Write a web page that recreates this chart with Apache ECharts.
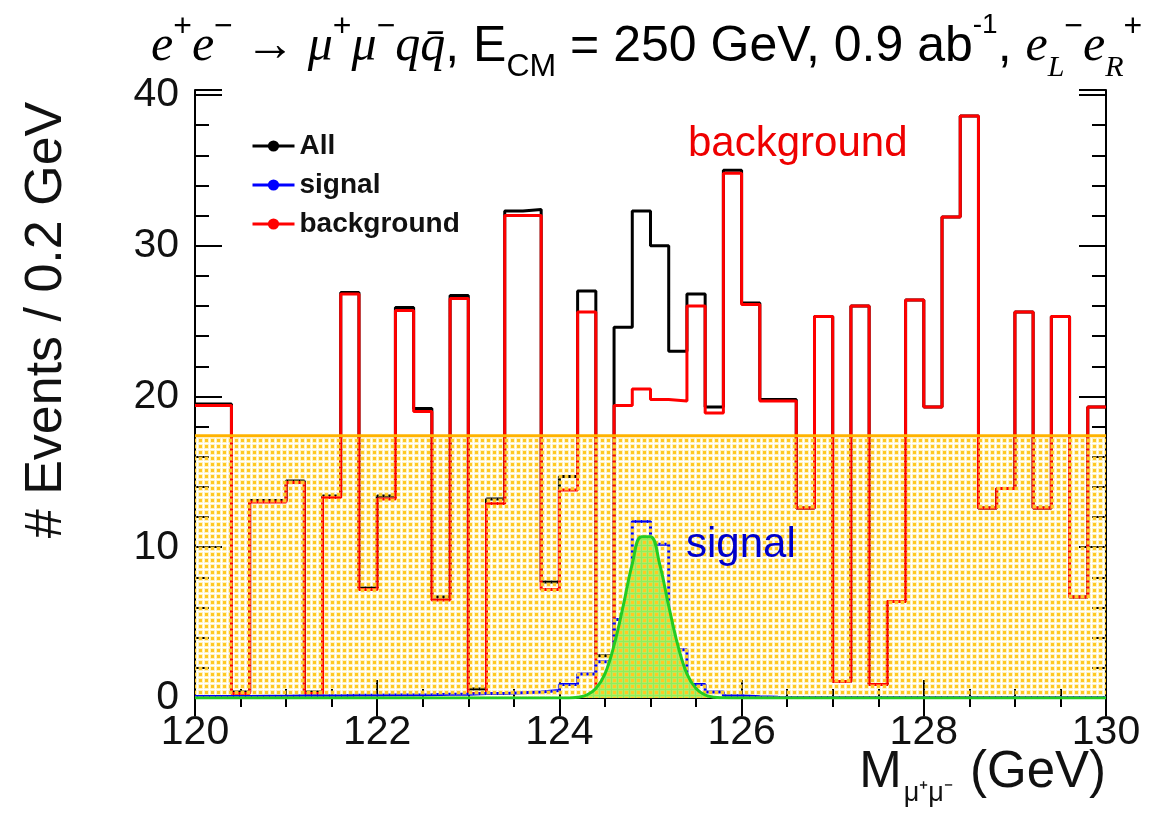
<!DOCTYPE html>
<html>
<head>
<meta charset="utf-8">
<script src="https://cdn.jsdelivr.net/npm/echarts@6/dist/echarts.min.js"></script>
<style>
html,body{margin:0;padding:0;background:#fff;}
#chart{width:1168px;height:819px;}
</style>
</head>
<body>
<div id="chart"></div>
<script>
// ---- data (bins of 0.2 GeV from 120 to 130) ----
const binStart = 120;
const binWidth = 0.2;
const xTicks = [120, 122, 124, 126, 128, 130];
const yTicks = [0, 10, 20, 30, 40];

const background = [19.4, 19.4, 0.3, 13.0, 13.0, 14.3, 0.3, 13.3, 26.8, 7.2,
                    13.2, 25.7, 19.0, 6.5, 26.5, 0.3, 12.9, 32.0, 32.0, 7.2,
                    13.8, 25.6, 0.4, 19.4, 20.5, 19.8, 19.7, 26.0, 18.9, 34.8,
                    26.1, 19.7, 19.7, 12.6, 25.3, 1.1, 26.0, 0.9, 6.4, 26.4,
                    19.3, 31.9, 38.6, 12.6, 13.9, 25.6, 12.6, 25.3, 6.7, 19.3];

const signal = [0.1, 0.1, 0.1, 0.12, 0.12, 0.15, 0.15, 0.15, 0.18, 0.18,
                0.2, 0.2, 0.22, 0.25, 0.25, 0.3, 0.3, 0.35, 0.4, 0.5,
                0.9, 1.6, 2.4, 5.2, 11.7, 10.2, 3.2, 0.9, 0.4, 0.15,
                0.08, 0.05, 0.04, 0.03, 0.03, 0.03, 0.03, 0.03, 0.03, 0.03,
                0.03, 0.03, 0.03, 0.03, 0.03, 0.03, 0.03, 0.03, 0.03, 0.03];

const allEvents = [19.5, 19.5, 0.4, 13.1, 13.1, 14.4, 0.4, 13.4, 26.9, 7.3,
                   13.4, 25.9, 19.2, 6.7, 26.7, 0.6, 13.2, 32.3, 32.4, 7.7,
                   14.7, 27.0, 2.8, 24.6, 32.3, 30.0, 23.0, 26.8, 19.3, 35.0,
                   26.2, 19.8, 19.8, 12.6, 25.3, 1.1, 26.0, 0.9, 6.4, 26.4,
                   19.3, 31.9, 38.6, 12.6, 13.9, 25.6, 12.6, 25.3, 6.7, 19.3];

// background fit level (flat, orange dotted band)
const bkgFitX = [120, 130];
const bkgFitY = [17.4, 17.4];

// signal fit curve
const gaussX = [120, 124.1, 124.2, 124.3, 124.4, 124.5, 124.6, 124.7, 124.8, 124.9, 125.0,
                125.1, 125.2, 125.3, 125.4, 125.5, 125.6, 125.7, 125.8, 125.9, 130];
const gaussY = [0, 0.0, 0.05, 0.2, 0.63, 1.6, 3.5, 6.1, 8.9, 10.7, 10.7,
                8.9, 6.1, 3.5, 1.6, 0.63, 0.2, 0.05, 0.01, 0.0, 0];

// ---- helpers ----
function histData(vals){
  const d = vals.map((v,i)=>[binStart + i*binWidth, v]);
  d.push([binStart + vals.length*binWidth, vals[vals.length-1]]);
  return d;
}
function zip(xs, ys){ return xs.map((x,i)=>[x, ys[i]]); }

// dotted pattern for the background fit band
const pat = document.createElement('canvas');
pat.width = 6; pat.height = 6;
(function(){
  const c = pat.getContext('2d');
  c.fillStyle = 'rgba(255,226,100,0.4)';
  c.fillRect(0,0,5,5);
  c.fillStyle = '#ffc823';
  c.fillRect(1,1,3,3);
})();

const chart = echarts.init(document.getElementById('chart'), null, {renderer:'canvas'});

const SANS = 'Liberation Sans, Arial, Helvetica, sans-serif';
const SERIF = 'Liberation Serif, DejaVu Serif, serif';

const titleText = '{m|e}{sp|+}{m|e}{sp|\u2212}{m| \u2192 \u03bc}{sp|+}{m|\u03bc}{sp|\u2212}{m|qq\u0304}{n|, E}{sb|CM}{n| = 250 GeV, 0.9 ab}{sp2|-1}{n|, }{m|e}{sb2|L}{sp|\u2212}{m|e}{sb2|R}{sp|+}';

const option = {
  animation:false,
  backgroundColor:'#fff',
  title:{
    text: titleText,
    left: 146, top: 6,
    textStyle:{
      fontWeight:'normal',
      rich:{
        m:{fontFamily:SERIF, fontStyle:'italic', fontWeight:'normal', fontSize:50, lineHeight:72, color:'#000', verticalAlign:'middle'},
        n:{fontFamily:SANS, fontWeight:'normal', fontSize:50, lineHeight:72, color:'#000', verticalAlign:'middle'},
        sp:{fontFamily:SANS, fontWeight:'normal', fontSize:32, lineHeight:38, color:'#000', verticalAlign:'top'},
        sp2:{fontFamily:SANS, fontWeight:'normal', fontSize:28, lineHeight:36, color:'#000', verticalAlign:'top'},
        sb:{fontFamily:SANS, fontWeight:'normal', fontSize:32, lineHeight:34, color:'#000', verticalAlign:'bottom'},
        sb2:{fontFamily:SERIF, fontStyle:'italic', fontWeight:'normal', fontSize:30, lineHeight:30, color:'#000', verticalAlign:'bottom'}
      }
    }
  },
  legend:{
    data:['All','signal','background'],
    orient:'vertical',
    left:246, top:127,
    itemWidth:42, itemHeight:14, itemGap:11,
    lineStyle:{width:3},
    textStyle:{fontFamily:SANS, fontSize:28, fontWeight:'bold', color:'#111'}
  },
  grid:{left:195, right:62, top:90, bottom:121, outerBoundsMode:'none', containLabel:false},
  xAxis:[{
    type:'value', min:120, max:130, interval:2,
    axisLine:{show:true, lineStyle:{color:'#000', width:2}},
    axisTick:{show:true, inside:true, length:18, lineStyle:{color:'#000', width:2}},
    minorTick:{show:true, splitNumber:4, length:9, lineStyle:{color:'#000', width:2}},
    splitLine:{show:false},
    axisLabel:{fontFamily:SANS, fontSize:41, color:'#111', margin:14,
      formatter:(v)=> xTicks.indexOf(v) >= 0 ? String(v) : ''}
  },{
    type:'value', min:120, max:130, interval:2, position:'top',
    axisLine:{show:true, lineStyle:{color:'#000', width:2}},
    axisTick:{show:true, inside:true, length:18, lineStyle:{color:'#000', width:2}},
    minorTick:{show:true, splitNumber:4, length:9, lineStyle:{color:'#000', width:2}},
    splitLine:{show:false}, axisLabel:{show:false}
  }],
  yAxis:[{
    type:'value', min:0, max:40.33, interval:10,
    axisLine:{show:true, lineStyle:{color:'#000', width:2}},
    axisTick:{show:true, inside:true, length:27, lineStyle:{color:'#000', width:2}},
    minorTick:{show:true, splitNumber:5, length:14, lineStyle:{color:'#000', width:2}},
    splitLine:{show:false},
    axisLabel:{fontFamily:SANS, fontSize:41, color:'#111', margin:16, showMaxLabel:false,
      formatter:(v)=> yTicks.indexOf(v) >= 0 ? String(v) : ''}
  },{
    type:'value', min:0, max:40.33, interval:10, position:'right',
    axisLine:{show:true, lineStyle:{color:'#000', width:2}},
    axisTick:{show:true, inside:true, length:27, lineStyle:{color:'#000', width:2}},
    minorTick:{show:true, splitNumber:5, length:14, lineStyle:{color:'#000', width:2}},
    splitLine:{show:false}, axisLabel:{show:false}
  }],
  graphic:[
    {type:'text', left:688, top:123, style:{text:'background', fontFamily:SANS, fontSize:42, fill:'#ee0000'}, z:100},
    {type:'text', left:686, top:524, style:{text:'signal', fontFamily:SANS, fontSize:42, fill:'#0000cc'}, z:100},
    {type:'text', x:47, y:320, rotation:Math.PI/2,
     style:{text:'# Events / 0.2 GeV', fontFamily:SANS, fontSize:52, fill:'#111', align:'center', verticalAlign:'middle'}, z:100},
    {type:'text', right:62, top:747,
     style:{text:'{a|M}{s|\u03bc\u207a\u03bc\u207b}{a| (GeV)}', fill:'#111',
       rich:{
         a:{fontFamily:SANS, fontSize:51, lineHeight:60, fill:'#111', verticalAlign:'top'},
         s:{fontFamily:SANS, fontSize:27, lineHeight:27, fill:'#111', verticalAlign:'bottom', padding:[0,3,0,2]}
       }}, z:100}
  ],
  series:[
    {name:'All', type:'line', step:'end', data:histData(allEvents),
     symbol:'circle', symbolSize:8, showSymbol:false,
     lineStyle:{color:'#000', width:3}, itemStyle:{color:'#000'}, z:2, silent:true},
    {name:'background', type:'line', step:'end', data:histData(background),
     symbol:'circle', symbolSize:8, showSymbol:false,
     lineStyle:{color:'#ff0000', width:3}, itemStyle:{color:'#ff0000'}, z:3, silent:true},
    {name:'signal', type:'line', step:'end', data:histData(signal),
     symbol:'circle', symbolSize:8, showSymbol:false,
     lineStyle:{color:'#0000ff', width:3}, itemStyle:{color:'#0000ff'}, z:4, silent:true},
    {name:'signal fit area', type:'line', smooth:0.4, data:zip(gaussX, gaussY),
     symbol:'none', lineStyle:{width:0}, areaStyle:{color:'#8eef5a', opacity:1}, z:5, silent:true},
    {name:'background fit', type:'line', data:zip(bkgFitX, bkgFitY),
     symbol:'none', lineStyle:{color:'#ffb300', width:3},
     areaStyle:{color:{image:pat, repeat:'repeat'}, opacity:1}, z:6, silent:true},
    {name:'signal fit', type:'line', smooth:0.4, data:zip(gaussX, gaussY),
     symbol:'none', lineStyle:{color:'#22cc22', width:3}, z:7, silent:true}
  ]
};
chart.setOption(option);
</script>
</body>
</html>
